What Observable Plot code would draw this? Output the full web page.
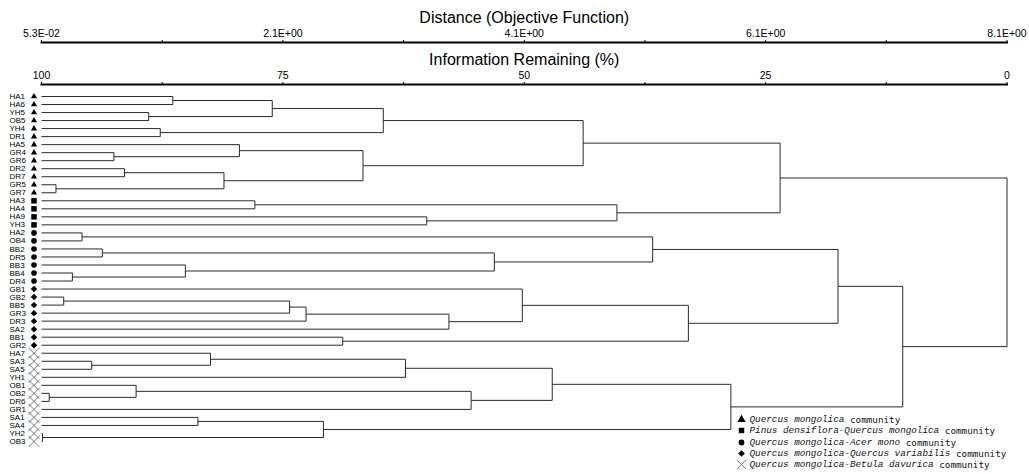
<!DOCTYPE html>
<html><head><meta charset="utf-8">
<script src="https://cdn.jsdelivr.net/npm/d3@7"></script>
<script src="https://cdn.jsdelivr.net/npm/@observablehq/plot@0.6"></script>
<style>
body{margin:0;background:#fff;}
#wrap{position:relative;width:1029px;height:474px;overflow:hidden;background:#fff;}
#wrap svg.chart{position:absolute;left:0;top:0;}
#legend{position:absolute;left:737px;top:414px;font-size:9.3px;line-height:11.25px;color:#111;white-space:nowrap;}
#legend .row{display:flex;align-items:center;height:11.25px;}
#legend svg{display:block;margin-right:3.5px;}
#legend i{font-family:"Liberation Mono",monospace;font-style:italic;}
#legend span.c{font-family:"DejaVu Sans Mono",monospace;white-space:pre;}
</style></head><body><div id="wrap"></div>
<script>
// ---------- data ----------
const leafLabels = ["HA1","HA6","YH5","OB5","YH4","DR1","HA5","GR4","GR6","DR2","DR7","GR5","GR7",
  "HA3","HA4","HA9","YH3",
  "HA2","OB4","BB2","DR5","BB3","BB4","DR4",
  "GB1","GB2","BB5","GR3","DR3","SA2","BB1","GR2",
  "HA7","SA3","SA5","YH1","OB1","OB2","DR6","GR1","SA1","SA4","YH2","OB3"];
const leafGroups = [0,0,0,0,0,0,0,0,0,0,0,0,0, 1,1,1,1, 2,2,2,2,2,2,2, 3,3,3,3,3,3,3,3, 4,4,4,4,4,4,4,4,4,4,4,4];
const communities = ["Quercus mongolica","Pinus densiflora-Quercus mongolica","Quercus mongolica-Acer mono",
  "Quercus mongolica-Quercus variabilis","Quercus mongolica-Betula davurica"];
const communitySuffix = " community";
// merges: [childA, childB, information remaining (%) at merge]; leaves are 0..43, merge k is 44+k
const merges = [
  [0,1,86.4],[2,3,88.9],[4,5,87.7],[44,45,76.1],[47,46,64.6],
  [7,8,92.5],[6,49,79.5],[9,10,91.4],[11,12,98.5],[51,52,81.1],[50,53,66.7],
  [48,54,43.9],[13,14,77.9],[15,16,60.1],[56,57,40.4],[55,58,23.5],
  [17,18,95.8],[19,20,93.7],[22,23,96.8],[21,62,85.1],[61,63,53.1],[60,64,36.7],
  [25,26,97.7],[66,27,74.3],[67,28,72.6],[68,29,57.8],[24,69,50.2],[30,31,68.8],[70,71,33.0],
  [65,72,17.5],
  [33,34,94.8],[32,74,82.5],[75,35,62.3],[37,38,99.2],[36,77,90.2],[78,39,55.5],[76,79,47.1],
  [40,41,83.8],[42,43,99.9],[81,82,70.8],[80,83,28.6],
  [73,84,10.8],[59,85,0]
];
const infoTicks = [100,75,50,25,0];
const infoTickLabels = ["100","75","50","25","0"];
const minorTicks = [87.5,62.5,37.5,12.5];
const distTickLabels = ["5.3E-02","2.1E+00","4.1E+00","6.1E+00","8.1E+00"];
const distTitle = "Distance (Objective Function)";
const infoTitle = "Information Remaining (%)";

// ---------- tree layout ----------
const nodes = leafLabels.map((label,i)=>({y:i,h:100}));
const segs = [];
for (const [a,b,h] of merges) {
  const A = nodes[a], B = nodes[b];
  segs.push({x1:A.h,y1:A.y,x2:h,y2:A.y});
  segs.push({x1:B.h,y1:B.y,x2:h,y2:B.y});
  segs.push({x1:h,y1:A.y,x2:h,y2:B.y});
  nodes.push({y:(A.y+B.y)/2,h});
}
const leaves = leafLabels.map((label,i)=>({i,label,g:leafGroups[i]}));

const font = "'Liberation Sans', Arial, sans-serif";
const xScale = {domain:[100,0], range:[41,1006.5]};
const symbolNames = ["triangle","square","circle","diamond2","times"];
const symbolR = [2.3,3.1,2.8,2.9,5];
const tickFmt = labels => d => { const k = infoTicks.indexOf(d); return k < 0 ? "" : labels[k]; };

const dotMarks = symbolNames.map((s,g)=> Plot.dot(leaves.filter(d=>d.g===g), {
  y:"i", frameAnchor:"left", dx:-7.5, symbol:()=>s, r:symbolR[g],
  fill: s==="times" ? "none" : "#000", stroke: s==="times" ? "#555" : "none", strokeWidth: 0.8
}));

const main = Plot.plot({
  width:1029, height:474, marginTop:84, marginLeft:41, marginRight:22.5, marginBottom:30,
  x:xScale,
  y:{domain:[0,leafLabels.length-1], range:[96,441], axis:null},
  symbol:{type:"identity"},
  style:{fontFamily:font, background:"white", color:"#000"},
  marks:[
    Plot.frame({anchor:"top", strokeWidth:2}),
    Plot.axisX({anchor:"top", ticks:infoTicks.concat(minorTicks), tickSize:3, tickPadding:3,
      fontSize:10.5, tickFormat:tickFmt(infoTickLabels), label:null}),
    Plot.text([infoTitle], {text:d=>d, frameAnchor:"top", dy:-20, fontSize:16, lineAnchor:"bottom"}),
    Plot.link(segs, {x1:"x1",y1:"y1",x2:"x2",y2:"y2", stroke:"#2a2a2a", strokeWidth:1}),
    Plot.text(leaves, {y:"i", text:"label", frameAnchor:"left", dx:-32, textAnchor:"start", fontSize:8}),
    ...dotMarks
  ]
});
main.classList.add("chart");

const topAxis = Plot.plot({
  width:1029, height:60, marginTop:42, marginLeft:41, marginRight:22.5, marginBottom:10,
  x:xScale,
  style:{fontFamily:font, background:"transparent", color:"#000"},
  marks:[
    Plot.frame({anchor:"top", strokeWidth:2}),
    Plot.axisX({anchor:"top", ticks:infoTicks.concat(minorTicks), tickSize:3, tickPadding:3,
      fontSize:10.5, tickFormat:tickFmt(distTickLabels), label:null}),
    Plot.text([distTitle], {text:d=>d, frameAnchor:"top", dy:-20, fontSize:16, lineAnchor:"bottom"})
  ]
});
topAxis.classList.add("chart");

const wrap = document.getElementById("wrap");
wrap.appendChild(main);
wrap.appendChild(topAxis);

// ---------- legend ----------
const legend = document.createElement("div");
legend.id = "legend";
const d3syms = [d3.symbolTriangle, d3.symbolSquare, d3.symbolCircle, d3.symbolDiamond2, d3.symbolTimes];
const legSize = [30, 30, 26, 28, 70];
communities.forEach((name,g)=>{
  const row = document.createElement("div"); row.className = "row";
  const svg = d3.create("svg").attr("width",9).attr("height",9);
  const p = svg.append("path").attr("transform","translate(4.5,4.5)")
    .attr("d", d3.symbol(d3syms[g], legSize[g])());
  if (g===4) p.attr("fill","none").attr("stroke","#555").attr("stroke-width",0.8); else p.attr("fill","#000");
  row.appendChild(svg.node());
  const it = document.createElement("i"); it.textContent = name; row.appendChild(it);
  const c = document.createElement("span"); c.className="c"; c.textContent = communitySuffix; row.appendChild(c);
  legend.appendChild(row);
});
wrap.appendChild(legend);
</script></body></html>
